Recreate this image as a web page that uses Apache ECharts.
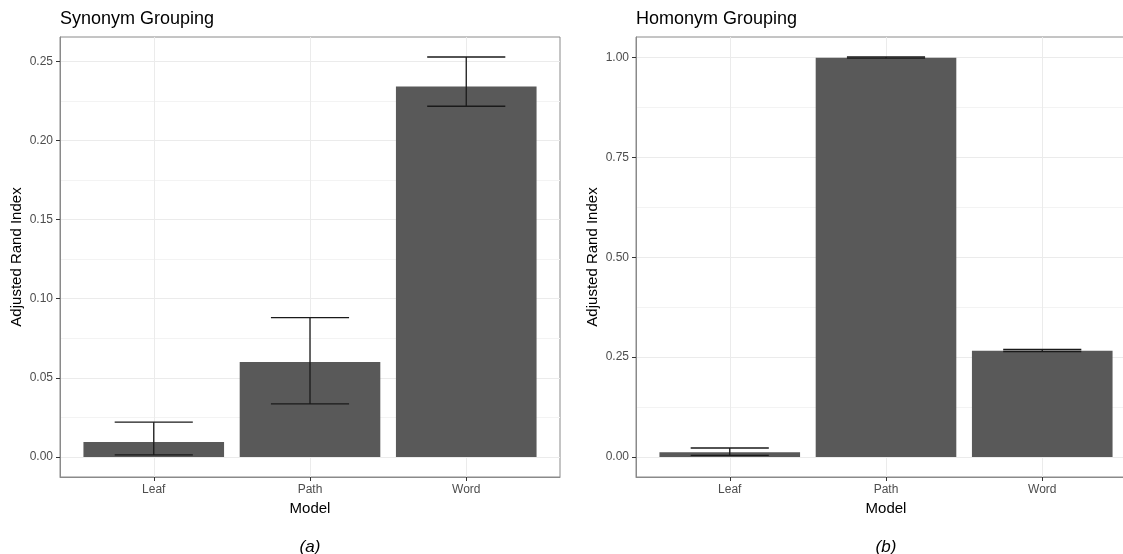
<!DOCTYPE html>
<html>
<head>
<meta charset="utf-8">
<script src="https://cdn.jsdelivr.net/npm/echarts@6/dist/echarts.min.js"></script>
<style>
html,body{margin:0;padding:0;background:#fff;}
#c{width:1123px;height:554px;}
</style>
</head>
<body>
<div id="c"></div>
<script>
// ---- data ----
const categories = ['Leaf', 'Path', 'Word'];
const synMean  = [0.0095, 0.0600, 0.2340];
const synLower = [0.0013, 0.0335, 0.2216];
const synUpper = [0.0220, 0.0880, 0.2527];
const homMean  = [0.0118, 0.9990, 0.2660];
const homLower = [0.0040, 0.9980, 0.2640];
const homUpper = [0.0225, 1.0010, 0.2690];
const synTicks = [0, 0.05, 0.10, 0.15, 0.20, 0.25];
const synMinor = [0.025, 0.075, 0.125, 0.175, 0.225];
const homTicks = [0, 0.25, 0.50, 0.75, 1.00];
const homMinor = [0.125, 0.375, 0.625, 0.875];
const panelTitles = ['Synonym Grouping', 'Homonym Grouping'];
const panelTags = ['(a)', '(b)'];
const xName = 'Model';
const yName = 'Adjusted Rand Index';

// ---- layout / style ----
const FONT = "'Liberation Sans', Arial, Helvetica, sans-serif";
const grids = [
  {left: 60, width: 500, top: 37, height: 440},
  {left: 636, width: 500, top: 37, height: 440}
];
const BAR = '#595959';
const TICKTXT = '#4d4d4d';
const MAJOR = '#ebebeb';
const MINOR = '#f3f3f3';
const BORDER = '#8a8a8a';

function yRange(lower, upper) {
  const lo = Math.min(0, Math.min.apply(null, lower));
  const hi = Math.max.apply(null, upper);
  const pad = 0.05 * (hi - lo);
  return [lo - pad, hi + pad];
}

const panels = [
  {mean: synMean, lower: synLower, upper: synUpper, ticks: synTicks, minor: synMinor},
  {mean: homMean, lower: homLower, upper: homUpper, ticks: homTicks, minor: homMinor}
];

const xAxes = [], yAxes = [], series = [], titles = [];
panels.forEach((p, i) => {
  const r = yRange(p.lower, p.upper);
  const catIdx = categories.map((_, k) => k + 1);
  xAxes.push({
    type: 'value', gridIndex: i, min: 0.4, max: 3.6, position: 'bottom',
    name: '{m|' + xName + '}\n{t|' + panelTags[i] + '}',
    nameLocation: 'middle', nameGap: 24,
    nameTextStyle: {
      rich: {
        m: {fontFamily: FONT, fontSize: 15, color: '#000', lineHeight: 16},
        t: {fontFamily: FONT, fontSize: 17, fontStyle: 'italic', color: '#000', lineHeight: 60}
      }
    },
    axisLine: {show: true, onZero: false, lineStyle: {color: BORDER, width: 1}},
    axisTick: {show: true, customValues: catIdx, length: 4, lineStyle: {color: '#333', width: 1}},
    axisLabel: {customValues: catIdx, formatter: v => categories[Math.round(v) - 1],
      fontFamily: FONT, fontSize: 12, color: TICKTXT, margin: 7},
    splitLine: {show: true, lineStyle: {color: MAJOR, width: 1}}
  });
  yAxes.push({
    type: 'value', gridIndex: i, min: r[0], max: r[1], position: 'left',
    name: yName, nameLocation: 'middle', nameGap: 36,
    nameTextStyle: {fontFamily: FONT, fontSize: 15, color: '#000'},
    axisLine: {show: true, onZero: false, lineStyle: {color: BORDER, width: 1}},
    axisTick: {show: true, customValues: p.ticks, length: 4, lineStyle: {color: '#333', width: 1}},
    axisLabel: {customValues: p.ticks, formatter: v => v.toFixed(2),
      fontFamily: FONT, fontSize: 12, color: TICKTXT, margin: 7},
    splitLine: {show: true, lineStyle: {color: MAJOR, width: 1}},
    z: 1
  });
  // minor grid lines (hidden axis)
  yAxes.push({
    type: 'value', gridIndex: i, min: r[0], max: r[1], position: 'left', offset: 0,
    axisLine: {show: false, onZero: false},
    axisTick: {show: false, customValues: p.minor},
    axisLabel: {show: false, customValues: p.minor},
    splitLine: {show: true, lineStyle: {color: MINOR, width: 1}},
    z: 0
  });
  const yi = i * 2;
  series.push({
    type: 'bar', xAxisIndex: i, yAxisIndex: yi,
    data: p.mean.map((v, k) => [k + 1, v]),
    barWidth: '90%',
    itemStyle: {color: BAR},
    silent: true, z: 3
  });
  series.push({
    type: 'custom', xAxisIndex: i, yAxisIndex: yi,
    data: p.mean.map((v, k) => [k + 1, p.lower[k], p.upper[k]]),
    renderItem: function (params, api) {
      const x = api.value(0);
      const lo = api.coord([x, api.value(1)]);
      const hi = api.coord([x, api.value(2)]);
      const half = api.size([0.25, 0])[0];
      const st = {stroke: '#1a1a1a', lineWidth: 1.3, fill: null};
      return {type: 'group', children: [
        {type: 'line', shape: {x1: lo[0], y1: lo[1], x2: hi[0], y2: hi[1]}, style: st},
        {type: 'line', shape: {x1: hi[0] - half, y1: hi[1], x2: hi[0] + half, y2: hi[1]}, style: st},
        {type: 'line', shape: {x1: lo[0] - half, y1: lo[1], x2: lo[0] + half, y2: lo[1]}, style: st}
      ]};
    },
    silent: true, z: 4
  });
  titles.push({
    text: panelTitles[i], left: grids[i].left, top: 10, padding: 0,
    textStyle: {fontFamily: FONT, fontSize: 18, fontWeight: 'normal', color: '#000'}
  });
});

const chart = echarts.init(document.getElementById('c'), null, {renderer: 'canvas'});
chart.setOption({
  backgroundColor: '#fff',
  animation: false,
  title: titles,
  grid: grids.map(g => Object.assign({show: true, borderColor: BORDER, borderWidth: 1, backgroundColor: 'transparent', containLabel: false, outerBoundsMode: 'none'}, g)),
  xAxis: xAxes,
  yAxis: yAxes,
  series: series
});
</script>
</body>
</html>
